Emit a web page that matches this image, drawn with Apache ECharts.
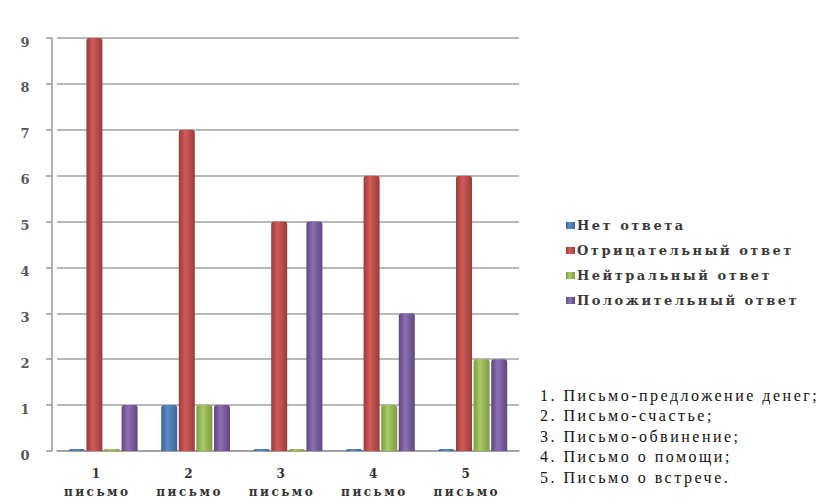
<!DOCTYPE html>
<html>
<head>
<meta charset="utf-8">
<script src="https://cdn.jsdelivr.net/npm/echarts@6/dist/echarts.min.js"></script>
<style>
html,body{margin:0;padding:0;background:#fff;}
#chart{width:825px;height:501px;}
#chart text{letter-spacing:2.5px;}
</style>
</head>
<body>
<div id="chart"></div>
<script>
const categories = ['1\nписьмо', '2\nписьмо', '3\nписьмо', '4\nписьмо', '5\nписьмо'];
const seriesNames = ['Нет ответа', 'Отрицательный ответ', 'Нейтральный ответ', 'Положительный ответ'];
const noAnswer = [0, 1, 0, 0, 0];
const negative = [9, 7, 5, 6, 6];
const neutral = [0, 1, 0, 1, 2];
const positive = [1, 1, 5, 3, 2];
const yTicks = [0, 1, 2, 3, 4, 5, 6, 7, 8, 9];
const notes = [
  '1. Письмо-предложение денег;',
  '2. Письмо-счастье;',
  '3. Письмо-обвинение;',
  '4. Письмо о помощи;',
  '5. Письмо о встрече.'
];

const palette = [
  ['#3a6596', '#5a8cc8', '#3a6596'],
  ['#9c3a37', '#cf5c58', '#9c3a37'],
  ['#7d9a40', '#a9cc66', '#7d9a40'],
  ['#5f4681', '#8d70b0', '#5f4681']
];
function grad(c) {
  return new echarts.graphic.LinearGradient(0, 0, 1, 0, [
    {offset: 0, color: c[0]}, {offset: 0.4, color: c[1]}, {offset: 1, color: c[2]}
  ]);
}
const dataSets = [noAnswer, negative, neutral, positive];
const solid = ['#4f81bd', '#c0504d', '#9bbb59', '#8064a2'];

const chart = echarts.init(document.getElementById('chart'), null, {renderer: 'svg'});
chart.setOption({
  backgroundColor: '#fff',
  animation: false,
  color: solid,
  grid: {left: 57, right: 306, top: 38, bottom: 47},
  legend: {
    orient: 'vertical',
    left: 561, top: 214,
    itemWidth: 9, itemHeight: 7, itemGap: 12,
    icon: 'rect',
    data: seriesNames,
    textStyle: {fontFamily: 'DejaVu Serif', fontWeight: 'bold', fontSize: 13, color: '#3a3a3a', padding: [0,0,0,-3]}
  },
  xAxis: {
    type: 'category',
    data: categories,
    axisLine: {lineStyle: {color: '#9a9a9a', width: 1.5}},
    axisTick: {show: false},
    axisLabel: {fontFamily: 'DejaVu Serif', fontWeight: 'bold', fontSize: 12, color: '#333', lineHeight: 18, margin: 14, padding: [0, 12, 0, 0]}
  },
  yAxis: {
    type: 'value', min: 0, max: 9, interval: 1,
    offset: 5,
    axisLine: {show: true, lineStyle: {color: '#9a9a9a', width: 1.5}},
    axisTick: {show: true, length: 6, lineStyle: {color: '#9a9a9a', width: 1.5}},
    splitLine: {lineStyle: {color: '#a0a0a0', width: 1.5}},
    axisLabel: {fontFamily: 'DejaVu Serif', fontWeight: 'bold', fontSize: 13, color: '#595959', margin: 20,
      verticalAlign: 'top', lineHeight: 8,
      formatter: v => yTicks.includes(v) ? String(v) : ''}
  },
  series: dataSets.map((d, i) => ({
    name: seriesNames[i],
    type: 'bar',
    data: d,
    barWidth: 16,
    barGap: '10%',
    barMinHeight: 2,
    itemStyle: {color: grad(palette[i]), borderRadius: [3, 3, 0, 0]}
  })),
  graphic: [{
    type: 'text',
    left: 540, top: 385,
    style: {
      text: notes.join('\n'),
      font: '16px "Liberation Serif"',
      lineHeight: 20.5,
      fill: '#111'
    }
  }]
});
</script>
</body>
</html>
